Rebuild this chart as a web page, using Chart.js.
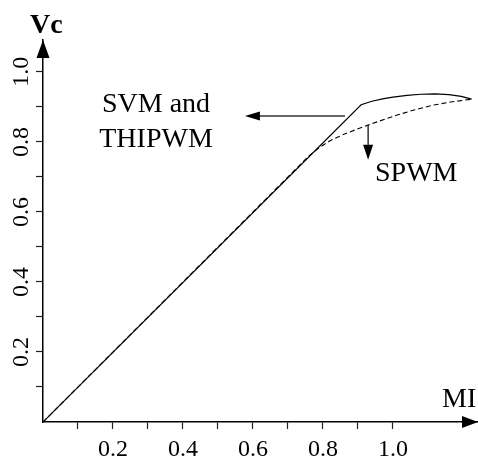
<!DOCTYPE html>
<html>
<head>
<meta charset="utf-8">
<script src="https://cdn.jsdelivr.net/npm/chart.js@4"></script>
<style>
  html, body { margin: 0; padding: 0; background: #fff; }
</style>
</head>
<body>
<canvas id="chart" width="478" height="456"></canvas>
<script>
// SVM / THIPWM curve (solid)
const miSvm = [0, 0.909, 0.94, 0.97, 1.0, 1.04, 1.08, 1.12, 1.16, 1.195, 1.225];
const vcSvm = [0, 0.906, 0.916, 0.923, 0.928, 0.933, 0.936, 0.937, 0.935, 0.930, 0.922];
// SPWM curve (dashed)
const miSpwm = [0, 0.76, 0.79, 0.82, 0.86, 0.91, 0.96, 1.01, 1.06, 1.11, 1.165, 1.225];
const vcSpwm = [0, 0.76, 0.784, 0.803, 0.822, 0.841, 0.859, 0.876, 0.891, 0.904, 0.914, 0.922];
// axis ticks (minor every 0.1, labels every 0.2)
const tickValues = [0.1, 0.2, 0.3, 0.4, 0.5, 0.6, 0.7, 0.8, 0.9, 1.0];
const tickLabels = ['', '0.2', '', '0.4', '', '0.6', '', '0.8', '', '1.0'];

const serif = "'Liberation Serif', 'Times New Roman', serif";

function toPoints(xs, ys) {
  return xs.map((x, i) => ({ x: x, y: ys[i] }));
}

function arrowHead(ctx, x, y, dir, len, half) {
  // dir: 'up', 'down', 'left', 'right' - tip at (x, y)
  ctx.beginPath();
  ctx.moveTo(x, y);
  if (dir === 'up') { ctx.lineTo(x - half, y + len); ctx.lineTo(x + half, y + len); }
  if (dir === 'down') { ctx.lineTo(x - half, y - len); ctx.lineTo(x + half, y - len); }
  if (dir === 'left') { ctx.lineTo(x + len, y - half); ctx.lineTo(x + len, y + half); }
  if (dir === 'right') { ctx.lineTo(x - len, y - half); ctx.lineTo(x - len, y + half); }
  ctx.closePath();
  ctx.fill();
}

const decorations = {
  id: 'decorations',
  afterDraw(chart) {
    const ctx = chart.ctx;
    const area = chart.chartArea;
    const xs = chart.scales.x;
    const ys = chart.scales.y;
    ctx.save();
    ctx.fillStyle = '#000';
    ctx.strokeStyle = '#000';

    // axis arrows
    arrowHead(ctx, area.left, area.top, 'up', 18, 6.5);
    arrowHead(ctx, area.right, area.bottom, 'right', 16, 6);

    // axis names
    ctx.textBaseline = 'alphabetic';
    ctx.textAlign = 'left';
    ctx.font = 'bold 28px ' + serif;
    ctx.fillText('Vc', 30, 33);
    ctx.font = '28px ' + serif;
    ctx.fillText('MI', 442, 407);

    // SVM and THIPWM pointer
    ctx.lineWidth = 1.5;
    ctx.strokeStyle = '#333';
    const hy = ys.getPixelForValue(0.874);
    const hx1 = xs.getPixelForValue(0.863);
    const hx2 = xs.getPixelForValue(0.577);
    ctx.beginPath();
    ctx.moveTo(hx1, hy);
    ctx.lineTo(hx2 + 10, hy);
    ctx.stroke();
    arrowHead(ctx, hx2, hy, 'left', 15, 4.5);

    // SPWM pointer
    ctx.lineWidth = 1.2;
    ctx.strokeStyle = '#000';
    const vx = xs.getPixelForValue(0.929);
    const vy1 = ys.getPixelForValue(0.849);
    const vy2 = ys.getPixelForValue(0.749);
    ctx.beginPath();
    ctx.moveTo(vx, vy1);
    ctx.lineTo(vx, vy2 - 10);
    ctx.stroke();
    arrowHead(ctx, vx, vy2, 'down', 15, 5);

    ctx.font = '28px ' + serif;
    ctx.textAlign = 'center';
    ctx.fillText('SVM and', 156, 112);
    ctx.fillText('THIPWM', 156, 147);
    ctx.textAlign = 'left';
    ctx.fillText('SPWM', 375, 181);
    ctx.restore();
  }
};

function axisOptions(max, extra) {
  return Object.assign({
    type: 'linear',
    min: 0,
    max: max,
    border: { display: true, color: '#000', width: 1.5 },
    grid: {
      display: true,
      drawOnChartArea: false,
      drawTicks: true,
      tickLength: 7,
      color: '#222',
      tickWidth: 1.2
    },
    afterBuildTicks(scale) {
      scale.ticks = tickValues.map(v => ({ value: v }));
    }
  }, extra);
}

new Chart(document.getElementById('chart'), {
  type: 'scatter',
  data: {
    datasets: [
      {
        label: 'SVM and THIPWM',
        data: toPoints(miSvm, vcSvm),
        showLine: true,
        borderColor: '#000',
        borderWidth: 1.2,
        pointRadius: 0,
        tension: 0
      },
      {
        label: 'SPWM',
        data: toPoints(miSpwm, vcSpwm),
        showLine: true,
        borderColor: '#000',
        borderWidth: 1.1,
        borderDash: [5, 3],
        pointRadius: 0,
        tension: 0
      }
    ]
  },
  options: {
    responsive: false,
    animation: false,
    devicePixelRatio: 1,
    layout: { padding: { top: 40, right: 0, left: 0, bottom: 0 } },
    plugins: {
      legend: { display: false },
      tooltip: { enabled: false }
    },
    scales: {
      x: axisOptions(1.243, {
        afterFit(scale) { scale.height = 34; },
        ticks: {
          autoSkip: false,
          maxRotation: 0,
          padding: 6,
          color: '#000',
          font: { family: serif, size: 24 },
          callback: (v, i) => tickLabels[i]
        }
      }),
      y: axisOptions(1.091, {
        afterFit(scale) { scale.width = 43; },
        ticks: {
          autoSkip: false,
          minRotation: 90,
          maxRotation: 90,
          crossAlign: 'center',
          padding: -1,
          color: '#000',
          font: { family: serif, size: 24 },
          callback: (v, i) => tickLabels[i]
        }
      })
    }
  },
  plugins: [decorations]
});
</script>
</body>
</html>
